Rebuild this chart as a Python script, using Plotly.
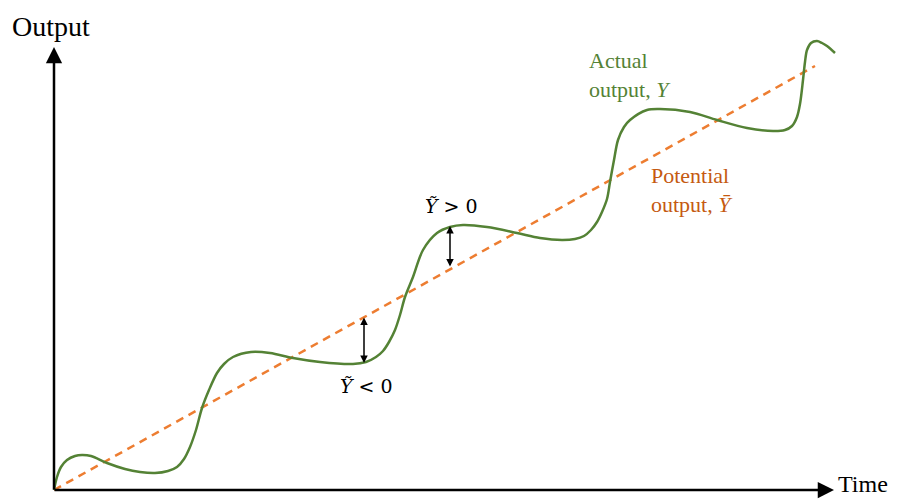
import plotly.graph_objects as go

# Actual output (green curve): time vs output, arbitrary units
time_actual = [0, 3, 7, 13, 21, 28, 37, 53, 71, 86, 101, 114, 123, 130, 136, 142, 148, 155, 163, 170, 179,
               197, 216, 239, 266, 299, 312, 322, 329, 335, 341, 346, 351, 359, 369, 383, 396, 409,
               433, 463, 486, 508, 521, 530, 537, 543, 548, 553, 556, 560, 564, 570, 576, 593, 606,
               636, 663, 693, 719, 731, 738, 743, 746, 749, 751, 753, 757, 763, 768, 773, 781]
output_actual = [0, 13, 23, 30, 34, 35, 34, 27, 21, 18, 17, 19, 23, 31, 43, 60, 82, 100, 117, 126, 133,
                 138, 137, 132, 128, 126, 128, 133, 139, 148, 160, 175, 193, 213, 240, 257, 263, 265,
                 263, 257, 252, 250, 251, 254, 260, 268, 278, 291, 308, 330, 350, 363, 370, 380, 381,
                 378, 370, 362, 359, 360, 364, 373, 386, 410, 428, 440, 447, 449, 447, 444, 437]

# Potential output (orange dashed trend line)
time_potential = [0, 761]
output_potential = [0, 424]

# Output gap markers
gap_pos = {"time": 396, "actual": 265, "potential": 221}
gap_neg = {"time": 310, "actual": 128, "potential": 173}

PAGE = 8          # page body margin of the browser
W, H = 900 - PAGE, 500 - PAGE
X0, Y0 = 54, 490  # window pixel position of origin


def px(x):
    return x - X0


def py(y):
    return Y0 - y


GREEN = "#548235"
ORANGE = "#ED7D31"
ORANGE_TXT = "#C55A11"
SERIF = "Liberation Serif, Times New Roman, serif"
MATH = "DejaVu Serif, serif"

fig = go.Figure()
fig.add_trace(go.Scatter(x=time_potential, y=output_potential, mode="lines",
                         line=dict(color=ORANGE, width=2.5, dash="8px,6px"),
                         hoverinfo="skip"))
fig.add_trace(go.Scatter(x=time_actual, y=output_actual, mode="lines",
                         line=dict(color=GREEN, width=2.5, shape="spline", smoothing=0.9),
                         hoverinfo="skip"))

annotations = []
# axes with arrowheads
annotations.append(dict(x=px(834), y=0, ax=px(53), ay=0, xref="x", yref="y", axref="x", ayref="y",
                        text="", showarrow=True, arrowhead=2, arrowsize=1.3, arrowwidth=2.5,
                        arrowcolor="black"))
annotations.append(dict(x=0, y=py(47), ax=0, ay=py(491), xref="x", yref="y", axref="x", ayref="y",
                        text="", showarrow=True, arrowhead=2, arrowsize=1.3, arrowwidth=2.5,
                        arrowcolor="black"))
# output gap arrows
for g in (gap_pos, gap_neg):
    annotations.append(dict(x=g["time"], y=g["actual"] - 1, ax=g["time"], ay=g["potential"] + 1,
                            xref="x", yref="y", axref="x", ayref="y", text="", showarrow=True,
                            arrowhead=2, startarrowhead=2, arrowside="end+start", arrowsize=1,
                            startarrowsize=1, arrowwidth=1.5, arrowcolor="black"))


def label(text, x, y, size, color, xanchor="left", yanchor="top", family=SERIF):
    annotations.append(dict(text=text, x=(x - PAGE) / W, y=1 - (y - PAGE) / H,
                            xref="paper", yref="paper",
                            xanchor=xanchor, yanchor=yanchor, showarrow=False, align="left",
                            font=dict(family=family, size=size, color=color)))


label("Output", 10, 9, 28, "black")
label("Time", 836, 499, 24, "black", yanchor="bottom")
label("Actual<br>output, <i>Y</i>", 587, 46, 22, GREEN)
label("Potential<br>output, <i>Ȳ</i>", 649, 161, 22, ORANGE_TXT)
label("<i>Ỹ</i> > 0", 451, 206, 19, "black", xanchor="center", yanchor="middle", family=MATH)
label("<i>Ỹ</i> < 0", 366, 386, 19, "black", xanchor="center", yanchor="middle", family=MATH)

fig.update_layout(
    width=W, height=H,
    margin=dict(l=0, r=0, t=0, b=0),
    paper_bgcolor="white", plot_bgcolor="white",
    showlegend=False,
    xaxis=dict(range=[-(X0 - PAGE), W - (X0 - PAGE)], visible=False, fixedrange=True),
    yaxis=dict(range=[Y0 - PAGE - H, Y0 - PAGE], visible=False, fixedrange=True),
    annotations=annotations,
)

fig.write_html("out.html")
